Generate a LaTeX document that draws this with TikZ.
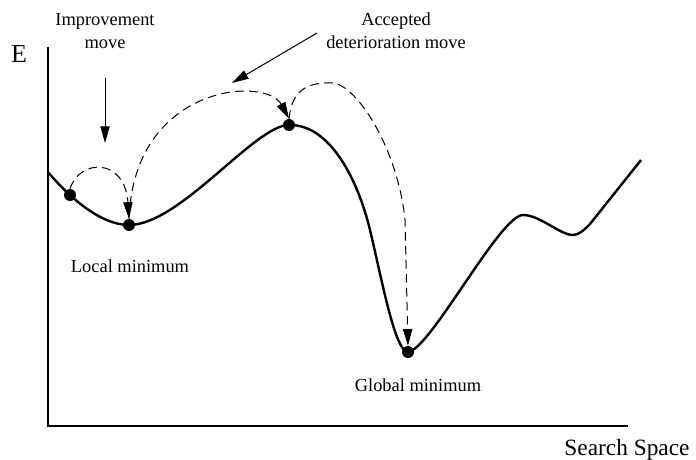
\documentclass[tikz,border=0pt]{standalone}
\usepackage{fontspec}
\setmainfont{Liberation Serif}
\usetikzlibrary{arrows.meta}
\begin{document}
\begin{tikzpicture}[x=0.75pt,y=-0.75pt,
  dot/.style={circle,fill=black,inner sep=0pt,minimum size=9pt},
  lbl/.style={font=\fontsize{13.8}{17}\selectfont,align=center,inner sep=0pt},
  curve/.style={line width=1.8pt,line join=round},
  axis/.style={line width=1.1pt},
  tip/.style={-{Triangle[length=12.5pt,width=7pt]}},
  jump/.style={tip,dashed,dash pattern=on 6.5pt off 4pt,line width=0.75pt},
  pointer/.style={tip,line width=0.75pt}]
\useasboundingbox (0,0) rectangle (696,460);
% axes
\coordinate (o) at (48,426);
\coordinate (ytop) at (48,47);
\coordinate (xend) at (628,426);
\draw[axis] (ytop) -- (o) -- (xend);
\node[font=\fontsize{19.5}{22}\selectfont,inner sep=0pt] (E) at (19,54) {E};
\node[font=\fontsize{17.5}{20}\selectfont,inner sep=0pt] (ss) at (627,450) {Search Space};
% energy landscape
\draw[curve] (48,172) .. controls (68,196) and (100,225) .. (129,225)
  .. controls (180,225) and (255,125) .. (289,125)
  .. controls (330,124) and (358,180) .. (370,230)
  .. controls (382,280) and (395,352) .. (408,352)
  .. controls (430,350) and (500,215) .. (523,215)
  .. controls (540,215) and (560,235) .. (573,235)
  .. controls (579,235) and (584,230) .. (590,224) -- (641,160);
% states
\node[dot] (d1) at (70,195) {};
\node[dot] (d2) at (129,225) {};
\node[dot] (d3) at (289,125) {};
\node[dot] (d4) at (408,352) {};
% labels
\node[lbl] (imp) at (105,31) {Improvement\\move};
\node[lbl] (acc) at (396,31) {Accepted\\deterioration move};
\node[lbl] (lmin) at (130,266) {Local minimum};
\node[lbl] (gmin) at (418,385) {Global minimum};
% pointer arrows
\coordinate (p1s) at (105,78);
\coordinate (p1e) at (105,143);
\coordinate (p2s) at (317,33);
\coordinate (p2e) at (232,83);
\draw[pointer] (p1s) -- (p1e);
\draw[pointer] (p2s) -- (p2e);
% moves
\draw[jump] (d1.north) .. controls (80,158) and (125,158) .. (d2.north);
\draw[jump] (d2.north) .. controls (134,84) and (266,76) .. (d3.north);
\draw[jump] (d3.north) .. controls (292,88) and (310,82) .. (333,83)
  .. controls (358,86) and (398,150) .. (405,220) -- (d4.north);
\end{tikzpicture}
\end{document}
